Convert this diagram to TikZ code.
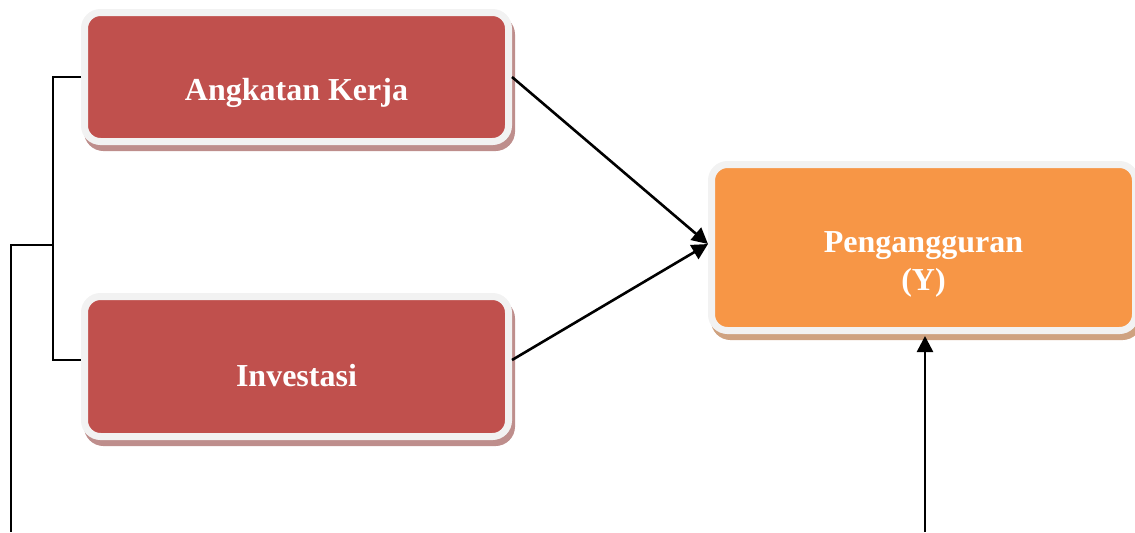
\documentclass[tikz,border=0pt]{standalone}
\usepackage{fontspec}
\setmainfont{Liberation Serif}
\usetikzlibrary{shadows,arrows.meta}
\definecolor{merah}{HTML}{C0504D}
\definecolor{oranye}{HTML}{F79646}
\definecolor{tepi}{HTML}{F2F2F2}
\definecolor{bayangmerah}{RGB}{190,142,140}
\definecolor{bayangoranye}{RGB}{207,162,128}
\begin{document}
\begin{tikzpicture}[x=0.5pt, y=-0.5pt,
  kotak/.style={draw=tepi, line width=3.5pt, rounded corners=8pt, minimum width=212pt,
    drop shadow={shadow xshift=1.5pt, shadow yshift=-3pt, opacity=1, fill=#1, draw=#1, line width=3.5pt}},
  teks/.style={font=\fontsize{16}{19}\selectfont\bfseries, text=white, align=center},
  garis/.style={line width=1.3pt},
  panah/.style={garis, -{Triangle[length=8pt,width=8pt]}}]
  \useasboundingbox (0,0) rectangle (1135,532);
  \node (ak) [kotak=bayangmerah, fill=merah, minimum height=64.5pt] at (296.5,77) {};
  \node (inv) [kotak=bayangmerah, fill=merah, minimum height=70pt] at (296.5,366.5) {};
  \node (peng) [kotak=bayangoranye, fill=oranye, minimum height=83pt] at (923.5,247.5) {};
  \node (ak-teks) [teks] at ([yshift=-8pt]ak.center) {Angkatan Kerja};
  \node (inv-teks) [teks] at ([yshift=-4.5pt]inv.center) {Investasi};
  \node (peng-teks) [teks] at ([yshift=-8.5pt]peng.center) {Pengangguran\\(Y)};
  % kurung kiri
  \coordinate (inv kiri) at ([yshift=3.25pt]inv.west);
  \coordinate (kurung) at (53,245);
  \coordinate (bawah kiri) at (11,532);
  \coordinate (bawah kanan) at (925,532);
  \draw [garis] (ak.west) -| (kurung) |- (inv kiri);
  \draw [garis] (kurung) -| (bawah kiri);
  % panah ke Y
  \draw [panah] (ak.east) -- ([yshift=1.75pt]peng.west);
  \draw [panah] ([yshift=3.25pt]inv.east) -- ([yshift=1.75pt]peng.west);
  \draw [panah, shorten >=1pt] (bawah kanan) -- (bawah kanan |- peng.south);
\end{tikzpicture}
\end{document}
